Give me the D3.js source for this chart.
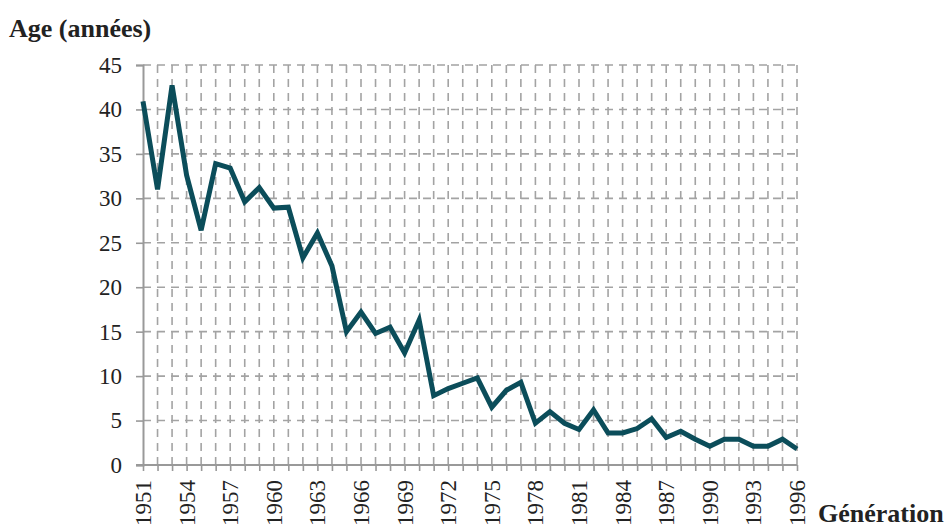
<!DOCTYPE html>
<html>
<head>
<meta charset="utf-8">
<script src="https://cdn.jsdelivr.net/npm/d3@7"></script>
<style>
  body { margin: 0; background: #fff; }
  text { font-family: "Liberation Serif", "Times New Roman", serif; fill: #222; }
</style>
</head>
<body>
<svg id="chart" width="945" height="532"></svg>
<script>
// années de génération
const years = d3.range(1951, 1997);
// âge (années)
const ages = [
  40.9, 31.0, 42.7, 32.6, 26.4, 33.9, 33.4, 29.6, 31.2, 28.9,
  29.0, 23.3, 26.1, 22.4, 15.0, 17.2, 14.8, 15.5, 12.6, 16.3,
  7.8, 8.6, 9.2, 9.8, 6.5, 8.4, 9.3, 4.7, 6.0, 4.7,
  4.0, 6.2, 3.6, 3.6, 4.1, 5.2, 3.1, 3.8, 2.9, 2.1,
  2.9, 2.9, 2.1, 2.1, 2.9, 1.8
];
const yTicks = [0, 5, 10, 15, 20, 25, 30, 35, 40, 45];
const xLabels = d3.range(1951, 1997, 3);

const svg = d3.select("#chart");
const margin = { top: 65, left: 143, right: 148, bottom: 67 };
const width = 945 - margin.left - margin.right,
      height = 532 - margin.top - margin.bottom;

const x = d3.scaleLinear().domain([1951, 1996]).range([margin.left, margin.left + width]);
const y = d3.scaleLinear().domain([0, 45]).range([margin.top + height, margin.top]);

const grid = "#a3a3a3";
const serif = '"Liberation Serif", "Times New Roman", serif';

// quadrillage vertical
svg.append("g").selectAll("line")
  .data(years.slice(1))
  .join("line")
  .attr("x1", d => x(d)).attr("x2", d => x(d))
  .attr("y1", y(45)).attr("y2", y(0))
  .attr("stroke", grid).attr("stroke-width", 1.6)
  .attr("stroke-dasharray", "8,6");

// quadrillage horizontal
svg.append("g").selectAll("line")
  .data(yTicks.slice(1))
  .join("line")
  .attr("x1", x(1951)).attr("x2", x(1996))
  .attr("y1", d => y(d)).attr("y2", d => y(d))
  .attr("stroke", grid).attr("stroke-width", 1.6)
  .attr("stroke-dasharray", "8,6");

// axe Y
const yAxis = svg.append("g")
  .attr("transform", `translate(${x(1951)},0)`)
  .call(d3.axisLeft(y).tickValues(yTicks).tickSize(7).tickPadding(13))
  .attr("font-family", serif).attr("font-size", 23);
yAxis.select(".domain").attr("stroke", "#999").attr("stroke-width", 2);
yAxis.selectAll(".tick line").attr("stroke", "#999").attr("stroke-width", 1.6);
yAxis.selectAll(".tick text").attr("fill", "#222").attr("dx", "-1");

// axe X
const xAxis = svg.append("g")
  .attr("transform", `translate(0,${y(0)})`)
  .call(d3.axisBottom(x).tickValues(years).tickSize(6).tickFormat(""));
xAxis.select(".domain").attr("stroke", "#999").attr("stroke-width", 2)
  .attr("d", `M${x(1951) - 7},0H${x(1996)}`);
xAxis.selectAll(".tick line").attr("stroke", "#999").attr("stroke-width", 1.6);

svg.append("g").selectAll("text")
  .data(xLabels)
  .join("text")
  .attr("transform", d => `translate(${x(d) + 8},${y(0) + 15}) rotate(-90)`)
  .attr("text-anchor", "end")
  .attr("font-family", serif)
  .attr("font-size", 23)
  .text(d => d);

// courbe
const line = d3.line()
  .x((d, i) => x(years[i]))
  .y(d => y(d));

svg.append("path")
  .datum(ages)
  .attr("fill", "none")
  .attr("stroke", "#0b4d5a")
  .attr("stroke-width", 5)
  .attr("stroke-linejoin", "miter")
  .attr("d", line);

// titres
svg.append("text")
  .attr("x", 9).attr("y", 37)
  .attr("font-family", serif)
  .attr("font-size", 26).attr("font-weight", "bold")
  .text("Age (années)");

svg.append("text")
  .attr("x", 818).attr("y", 522)
  .attr("font-family", serif)
  .attr("font-size", 26).attr("font-weight", "bold")
  .text("Génération");
</script>
</body>
</html>
